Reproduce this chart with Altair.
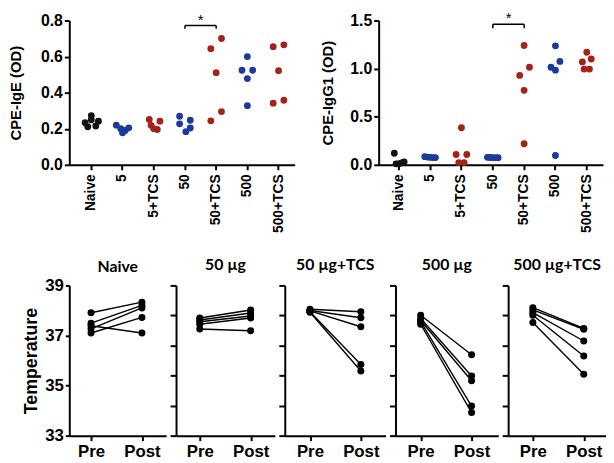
import altair as alt
import pandas as pd

# ---------------- data ----------------
categories = ["Naive", "5", "5+TCS", "50", "50+TCS", "500", "500+TCS"]
cat_kind = ["naive", "dose", "tcs", "dose", "tcs", "dose", "tcs"]

ige_values = {
    "Naive": [0.273, 0.25, 0.242, 0.233, 0.215, 0.211],
    "5": [0.22, 0.205, 0.2, 0.19, 0.178],
    "5+TCS": [0.251, 0.242, 0.219, 0.2, 0.196],
    "50": [0.269, 0.247, 0.227, 0.204, 0.184],
    "50+TCS": [0.70, 0.644, 0.511, 0.295, 0.244],
    "500": [0.60, 0.524, 0.524, 0.478, 0.328],
    "500+TCS": [0.665, 0.655, 0.522, 0.358, 0.342],
}
ige_jitter = {
    "Naive": [0.0, 0.0, 0.8, -0.7, 0.5, -0.4],
    "5": [-0.7, 0.7, -0.2, 0.3, 0.0],
    "5+TCS": [-0.5, 0.7, -0.3, 0.0, 0.4],
    "50": [-0.6, 0.6, -0.6, 0.6, 0.1],
    "50+TCS": [0.6, -0.6, 0.0, 0.6, -0.6],
    "500": [0.0, -0.6, 0.6, 0.0, 0.0],
    "500+TCS": [0.6, -0.6, 0.0, 0.6, -0.6],
}

igg1_values = {
    "Naive": [0.12, 0.03, 0.02, 0.01, 0.01],
    "5": [0.085, 0.08, 0.078, 0.075, 0.075],
    "5+TCS": [0.385, 0.107, 0.107, 0.023, 0.023],
    "50": [0.078, 0.076, 0.075, 0.075, 0.074],
    "50+TCS": [1.24, 1.014, 0.929, 0.774, 0.219],
    "500": [1.237, 1.075, 1.014, 0.984, 0.097],
    "500+TCS": [1.17, 1.10, 1.07, 0.995, 0.995],
}
igg1_jitter = {
    "Naive": [-0.5, 0.6, 0.3, -0.3, 0.0],
    "5": [-0.6, -0.3, 0.0, 0.3, 0.6],
    "5+TCS": [0.0, -0.6, 0.6, -0.3, 0.3],
    "50": [-0.6, -0.3, 0.0, 0.3, 0.6],
    "50+TCS": [0.0, 0.6, -0.5, 0.0, 0.0],
    "500": [0.0, 0.5, -0.5, 0.0, 0.0],
    "500+TCS": [0.0, 0.5, -0.5, -0.3, 0.3],
}

groups = ["Naive", "50 µg", "50 µg+TCS", "500 µg", "500 µg+TCS"]
temp_pre = {
    "Naive": [37.91, 37.49, 37.39, 37.26, 37.10],
    "50 µg": [37.70, 37.62, 37.55, 37.45, 37.26],
    "50 µg+TCS": [38.05, 38.00, 37.98, 37.95, 37.93],
    "500 µg": [37.81, 37.68, 37.60, 37.55, 37.45],
    "500 µg+TCS": [38.11, 38.02, 37.91, 37.81, 37.52],
}
temp_post = {
    "Naive": [38.33, 38.20, 37.10, 38.10, 37.72],
    "50 µg": [38.02, 37.90, 37.78, 37.70, 37.19],
    "50 µg+TCS": [37.95, 37.71, 37.35, 35.84, 35.58],
    "500 µg": [36.23, 35.38, 35.19, 34.18, 33.92],
    "500 µg+TCS": [37.28, 37.25, 36.78, 36.18, 35.45],
}
phases = ["Pre", "Post"]

BLACK = "#111111"
BLUE = "#1c3a9c"
RED = "#a3231a"
AX_FONT = "Liberation Sans"


def dot_panel(values, jitter, ymax, yvals, fmt, ytitle, bracket, tick_end, width, pad_outer,
              align, title_pad):
    rows = []
    for c, k in zip(categories, cat_kind):
        for v, j in zip(values[c], jitter[c]):
            rows.append({"cat": c, "value": v, "jit": j, "kind": k})
    df = pd.DataFrame(rows)

    bw = width / (len(categories) + 2 * pad_outer)
    half = bw / 2
    xscale = alt.Scale(domain=categories, paddingInner=0, paddingOuter=pad_outer, align=align)
    xaxis = alt.Axis(
        title=None, labelAngle=270, labelFont=AX_FONT, labelFontSize=14,
        labelFontWeight="bold", labelColor="black", labelPadding=4,
        domainColor="black", domainWidth=2, tickColor="black", tickWidth=2, tickSize=5,
    )
    yscale = alt.Scale(domain=[0, ymax], nice=False)
    yaxis = alt.Axis(
        values=yvals, tickCount=10, format=fmt, title=ytitle, titleFont=AX_FONT,
        titleFontSize=15, titleFontWeight="bold", titleColor="black", titlePadding=title_pad,
        labelFont=AX_FONT, labelFontSize=16, labelFontWeight="bold", labelColor="black",
        labelOverlap=False, labelFlush=False,
        domainColor="black", domainWidth=2, tickColor="black", tickWidth=2, tickSize=5,
        grid=False,
    )

    pts = alt.Chart(df).mark_circle(size=48, opacity=1).encode(
        x=alt.X("cat:N", scale=xscale, axis=xaxis, sort=categories),
        xOffset=alt.XOffset("jit:Q", scale=alt.Scale(domain=[-1, 1],
                                                     range=[half - 9, half + 9])),
        y=alt.Y("value:Q", scale=yscale, axis=yaxis),
        color=alt.Color("kind:N", scale=alt.Scale(domain=["naive", "dose", "tcs"],
                                                   range=[BLACK, BLUE, RED]), legend=None),
    )

    bdf = pd.DataFrame({"a": ["50"], "b": ["50+TCS"]})
    hrule = alt.Chart(bdf).mark_rule(color="black", strokeWidth=1.5).encode(
        x=alt.X("a:N", bandPosition=0.5),
        x2=alt.X2("b:N", bandPosition=0.5),
        y=alt.Y(datum=bracket),
    )
    tdf = pd.DataFrame({"c": ["50", "50+TCS"]})
    vrule = alt.Chart(tdf).mark_rule(color="black", strokeWidth=1.5).encode(
        x=alt.X("c:N", bandPosition=0.5),
        y=alt.Y(datum=bracket),
        y2=alt.Y2(datum=tick_end),
    )
    star = alt.Chart(bdf).mark_text(text="*", fontSize=15, font=AX_FONT, color="black",
                                    baseline="alphabetic", dy=-1).encode(
        x=alt.X("b:N", bandPosition=0),
        y=alt.Y(datum=bracket),
    )
    return alt.layer(pts, hrule, vrule, star).properties(width=width, height=146)


def temp_panel(g, first, width, pre_off):
    rows = []
    for i, (a, b) in enumerate(zip(temp_pre[g], temp_post[g])):
        rows.append({"mouse": i, "phase": "Pre", "temp": a})
        rows.append({"mouse": i, "phase": "Post", "temp": b})
    df = pd.DataFrame(rows)
    step = 51.5
    pad = (width - step) / (2 * step)
    al = pre_off / (width - step)
    x = alt.X("phase:N", sort=phases,
              scale=alt.Scale(type="point", domain=phases, padding=pad, align=al),
              axis=alt.Axis(title=None, labelAngle=0, labelFont=AX_FONT, labelFontSize=17,
                            labelFontWeight="bold", labelColor="black", labelPadding=3,
                            domainColor="black", domainWidth=2, tickColor="black",
                            tickWidth=2, tickSize=5))
    if first:
        yaxis = alt.Axis(values=[33, 35, 37, 39], tickCount=10, format="d",
                         title="Temperature",
                         titleFont=AX_FONT, titleFontSize=18, titleFontWeight="bold",
                         titleColor="black", titlePadding=4, labelFont=AX_FONT,
                         labelFontSize=17, labelFontWeight="bold", labelColor="black",
                         labelPadding=2, labelOverlap=False, domainColor="black",
                         domainWidth=2, tickColor="black", tickWidth=2, tickSize=4, grid=False)
    else:
        yaxis = alt.Axis(values=[33, 34.2, 35.4, 36.6, 37.8, 39], tickCount=10, title=None,
                         labels=False, domainColor="black", domainWidth=2, tickColor="black",
                         tickWidth=2, tickSize=6, grid=False)
    y = alt.Y("temp:Q", scale=alt.Scale(domain=[33, 39], nice=False, zero=False), axis=yaxis)
    lines = alt.Chart(df).mark_line(color="black", strokeWidth=1.4).encode(
        x=x, y=y, detail="mouse:N")
    pts = alt.Chart(df).mark_circle(size=50, color="black", opacity=1).encode(x=x, y=y)
    return alt.layer(lines, pts).properties(
        width=width, height=152,
        title=alt.TitleParams(text=g, font="Lato", fontSize=16, fontWeight="bold",
                              color="black", anchor="middle", offset=2 if first else 12),
    )


left = dot_panel(ige_values, ige_jitter, 0.8, [0, 0.2, 0.4, 0.6, 0.8], ".1f",
                 "CPE-IgE (OD)", 0.772, 0.755, 228, 0.111, 0.93, 17)
right = dot_panel(igg1_values, igg1_jitter, 1.5, [0, 0.5, 1.0, 1.5], ".1f",
                  "CPE-IgG1 (OD)", 1.46, 1.42, 227, 0.08, 0.9, 14)

top = alt.hconcat(left, right, spacing=26)
panel_w = [98, 100, 102, 104, 99]
panel_pre = [22, 24, 25.5, 25.5, 25]
bottom = alt.hconcat(*[temp_panel(g, i == 0, panel_w[i], panel_pre[i])
                       for i, g in enumerate(groups)], spacing=3)

chart = alt.vconcat(top, bottom, spacing=24).properties(
    padding=0).configure_view(stroke=None).configure_axis(labelOverlap=False)

chart.save("out.html", embed_options={"renderer": "svg", "actions": False})
